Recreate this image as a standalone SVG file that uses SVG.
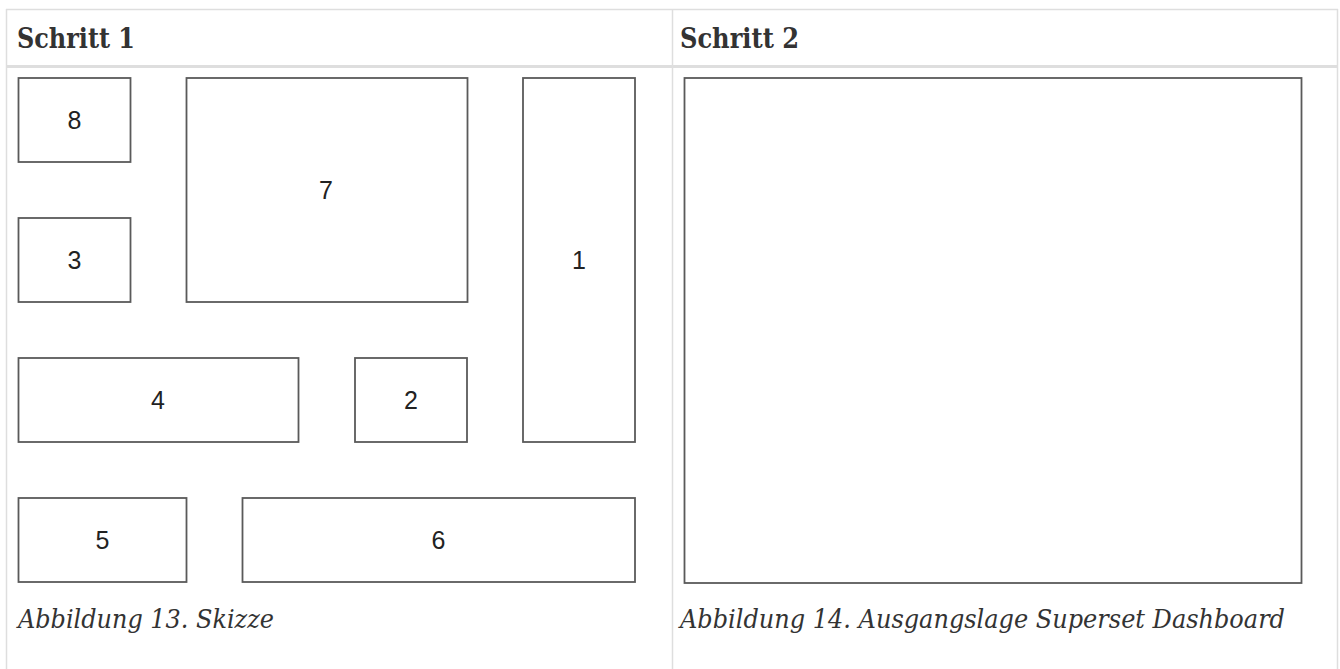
<svg xmlns="http://www.w3.org/2000/svg" width="1340" height="669" viewBox="0 0 1340 669">
<style>
.grid{stroke:#dedede;fill:none}
.box{fill:#fff;stroke:#5a5a5a;stroke-width:1.8}
.num{font-family:"Liberation Sans",Arial,sans-serif;font-size:25px;fill:#222;text-anchor:middle}
.head{font-family:"DejaVu Serif","Liberation Serif",serif;font-weight:bold;font-size:27px;fill:#333}
.cap{font-family:"DejaVu Serif","Liberation Serif",serif;font-style:italic;font-size:26px;fill:#333}
</style>
<rect width="1340" height="669" fill="#fff"/>
<g id="table">
<line class="grid" x1="6" y1="9.5" x2="1338" y2="9.5" stroke-width="1.5"/>
<line class="grid" x1="6.5" y1="9" x2="6.5" y2="669" stroke-width="1.5"/>
<line class="grid" x1="672.5" y1="9" x2="672.5" y2="669" stroke-width="1.5"/>
<line class="grid" x1="1337.5" y1="9" x2="1337.5" y2="669" stroke-width="1.5"/>
<line class="grid" x1="6" y1="66.5" x2="1338" y2="66.5" stroke-width="3"/>
<text class="head" x="17" y="48" textLength="118" lengthAdjust="spacingAndGlyphs">Schritt 1</text>
<text class="head" x="680" y="48" textLength="119" lengthAdjust="spacingAndGlyphs">Schritt 2</text>
</g>
<g id="node-8"><rect class="box" x="18.5" y="78" width="112" height="84"/><text class="num" x="74.5" y="129">8</text></g>
<g id="node-7"><rect class="box" x="186.5" y="78" width="281" height="224"/><text class="num" x="326" y="199">7</text></g>
<g id="node-1"><rect class="box" x="523" y="78" width="112" height="364"/><text class="num" x="579" y="269">1</text></g>
<g id="node-3"><rect class="box" x="18.5" y="218" width="112" height="84"/><text class="num" x="74.5" y="269">3</text></g>
<g id="node-4"><rect class="box" x="18.5" y="358" width="280" height="84"/><text class="num" x="158" y="409">4</text></g>
<g id="node-2"><rect class="box" x="355" y="358" width="112" height="84"/><text class="num" x="411" y="409">2</text></g>
<g id="node-5"><rect class="box" x="18.5" y="498" width="168" height="84"/><text class="num" x="102.5" y="549">5</text></g>
<g id="node-6"><rect class="box" x="242.5" y="498" width="392.5" height="84"/><text class="num" x="438.5" y="549">6</text></g>
<g id="node-dashboard"><rect class="box" x="684.5" y="78" width="617" height="505"/></g>
<g id="captions">
<text class="cap" x="18" y="628" textLength="256" lengthAdjust="spacingAndGlyphs">Abbildung 13. Skizze</text>
<text class="cap" x="680" y="628" textLength="605" lengthAdjust="spacingAndGlyphs">Abbildung 14. Ausgangslage Superset Dashboard</text>
</g>
<g id="connectors"></g>
</svg>
